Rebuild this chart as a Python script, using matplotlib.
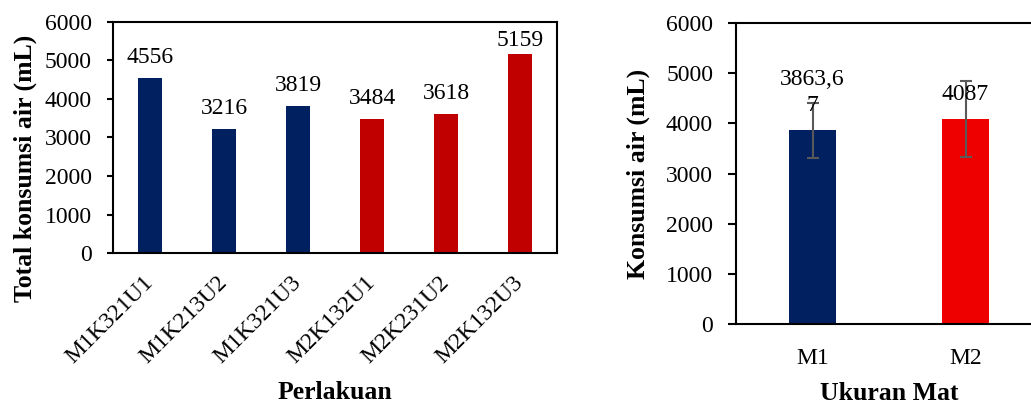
import matplotlib
matplotlib.use("Agg")
import matplotlib.pyplot as plt

plt.rcParams['font.family'] = ['Liberation Serif', 'DejaVu Serif']

# left chart: total per treatment
treatments = ["M1K321U1", "M1K213U2", "M1K321U3", "M2K132U1", "M2K231U2", "M2K132U3"]
totals = [4556, 3216, 3819, 3484, 3618, 5159]
total_colors = ["#002060", "#002060", "#002060", "#C00000", "#C00000", "#C00000"]

# right chart: mean per mat size
mat_sizes = ["M1", "M2"]
means = [3863.67, 4087]
errors = [550, 755]
mean_labels = ["3863,6\n7", "4087"]
mean_colors = ["#002060", "#EE0000"]

fig = plt.figure(figsize=(10.31, 4.05), dpi=100)

# ---- left
ax1 = fig.add_axes([0.1096, 0.3753, 0.4307, 0.5704])
x1 = range(len(treatments))
ax1.bar(x1, totals, width=0.33, color=total_colors)
for i, v in enumerate(totals):
    ax1.annotate(str(v), (i, min(v, 4990)), xytext=(0, 7), textcoords="offset points",
                 ha="center", va="bottom", fontsize=17)
ax1.set_xlim(-0.5, 5.5)
ax1.set_ylim(0, 6000)
ax1.set_yticks(range(0, 6001, 1000))
ax1.set_xticks(list(x1))
ax1.set_xticklabels(treatments, rotation=45, ha="right", va="center", rotation_mode="anchor")
ax1.tick_params(axis="x", length=0, pad=19, labelsize=17)
ax1.tick_params(axis="y", direction="out", length=4.3, width=1.5, pad=11, labelsize=17)
for s in ax1.spines.values():
    s.set_linewidth(1.5)
ax1.set_ylabel("Total konsumsi air (mL)", fontsize=18.5, fontweight="bold")
ax1.set_xlabel("Perlakuan", fontsize=18.5, fontweight="bold")
ax1.yaxis.set_label_coords(-0.198, 0.368)
ax1.yaxis.label.set_va("center")
ax1.xaxis.set_label_coords(0.5, -0.606)
ax1.xaxis.label.set_va("center")

# ---- right
ax2 = fig.add_axes([0.7139, 0.2, 0.2968, 0.7432])
x2 = range(len(mat_sizes))
ax2.bar(x2, means, width=0.31, color=mean_colors,
        yerr=errors, ecolor="#595959", capsize=4.3, error_kw={"elinewidth": 1.5, "capthick": 1.5})
for i, v in enumerate(means):
    ax2.annotate(mean_labels[i], (i, v), xytext=(0, 10), textcoords="offset points",
                 ha="center", va="bottom", fontsize=17, linespacing=1.35)
ax2.set_xlim(-0.5, 1.5)
ax2.set_ylim(0, 6000)
ax2.set_yticks(range(0, 6001, 1000))
ax2.set_xticks(list(x2))
ax2.set_xticklabels(mat_sizes)
ax2.tick_params(axis="x", length=0, pad=17, labelsize=17)
ax2.tick_params(axis="y", direction="out", length=5.5, width=1.5, pad=11, labelsize=17)
for s in ax2.spines.values():
    s.set_linewidth(1.5)
ax2.set_ylabel("Konsumsi air (mL)", fontsize=18.5, fontweight="bold")
ax2.set_xlabel("Ukuran Mat", fontsize=18.5, fontweight="bold")
ax2.yaxis.set_label_coords(-0.32, 0.5)
ax2.yaxis.label.set_va("center")
ax2.xaxis.set_label_coords(0.5, -0.23)
ax2.xaxis.label.set_va("center")

plt.savefig("out.png", dpi=100)
